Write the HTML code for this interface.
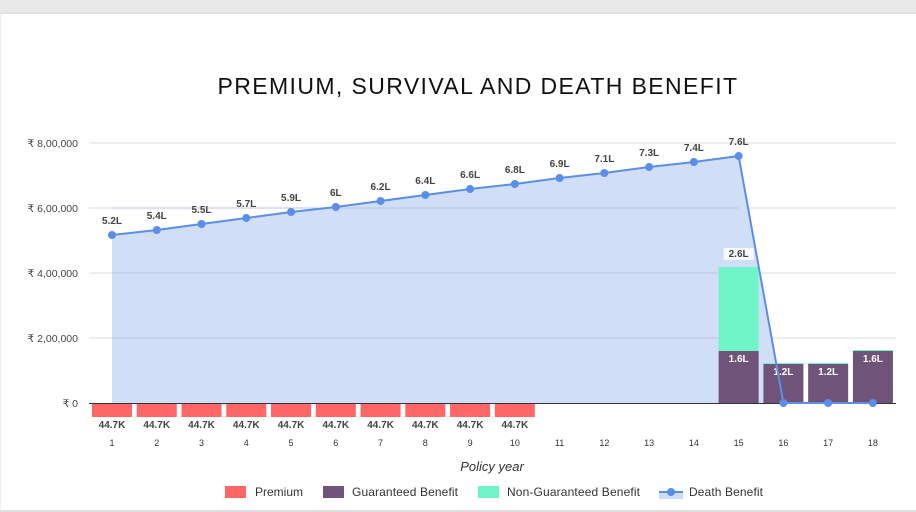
<!DOCTYPE html>
<html><head><meta charset="utf-8"><style>
html,body{margin:0;padding:0;background:#fff;}
body{width:916px;height:512px;overflow:hidden;}
svg{display:block;font-family:"Liberation Sans",sans-serif;}
</style></head><body>
<svg id="c" width="916" height="512" xmlns="http://www.w3.org/2000/svg"></svg>
<script>
const s=[];
s.push('<rect x="0" y="0" width="916" height="12" fill="#e9e9e9"/><rect x="0" y="12" width="916" height="2" fill="#e2e2e2"/>');
s.push('<rect x="0" y="510" width="916" height="2" fill="#dcdcdc"/><rect x="0" y="14" width="1" height="496" fill="#eee"/>');
s.push('<text x="478" y="94" text-anchor="middle" font-size="23" fill="#111" letter-spacing="1.4">PREMIUM, SURVIVAL AND DEATH BENEFIT</text>');
const y0=403, k=65/200000;
const X=i=>112+(i-1)*44.76;
const yl=["₹ 0","₹ 2,00,000","₹ 4,00,000","₹ 6,00,000","₹ 8,00,000"];
for(let g=0;g<5;g++){const y=y0-65*g;
 if(g>0)s.push(`<line x1="89" x2="896" y1="${y}" y2="${y}" stroke="#ddd" stroke-width="1"/>`);
 s.push(`<text x="78" y="${y+4}" text-anchor="end" font-size="10.5" fill="#444">${yl[g]}</text>`);}
const dy=[235,230,224,218,212,207,201,195,189,184,178,173,167,162,156,403,403,403];
const dl=["5.2L","5.4L","5.5L","5.7L","5.9L","6L","6.2L","6.4L","6.6L","6.8L","6.9L","7.1L","7.3L","7.4L","7.6L"];
let p=`M${X(1)},${y0} `;for(let i=1;i<=18;i++)p+=`L${X(i)},${dy[i-1]} `;p+=`L${X(18)},${y0} Z`;
s.push(`<path d="${p}" fill="#cfdcf7" opacity="0.95"/>`);
for(let g=1;g<4;g++){const y=y0-65*g;s.push(`<line x1="${X(1)}" x2="${X(15)}" y1="${y}" y2="${y}" stroke="#b9c6e0" stroke-width="1"/>`);}
const bw=40;
for(let i=1;i<=10;i++){s.push(`<rect x="${X(i)-20}" y="404" width="${bw}" height="13" fill="#ff6666"/>`);
 s.push(`<text x="${X(i)}" y="428" text-anchor="middle" font-size="10" font-weight="bold" fill="#444">44.7K</text>`);}
const gb={15:351,16:364,17:364,18:351};const gl={15:"1.6L",16:"1.2L",17:"1.2L",18:"1.6L"};
for(const i in gb){const x=X(+i)-20;
 s.push(`<rect x="${x}" y="${gb[i]}" width="${bw}" height="${y0-gb[i]}" fill="#6f5379"/>`);
 s.push(`<rect x="${x}" y="${gb[i]-1}" width="${bw}" height="1" fill="#6ff5c8"/>`);
 s.push(`<text x="${X(+i)}" y="${gb[i]+11}" text-anchor="middle" font-size="10" font-weight="bold" fill="#fff">${gl[i]}</text>`);}
s.push(`<rect x="${X(15)-20}" y="267" width="40" height="83" fill="#6ff5c8"/>`);
s.push(`<rect x="${X(15)-15}" y="248" width="30" height="12" fill="#fff" opacity="0.85"/><text x="${X(15)}" y="257" text-anchor="middle" font-size="10" font-weight="bold" fill="#444">2.6L</text>`);
s.push(`<line x1="89" x2="896" y1="403.5" y2="403.5" stroke="#333" stroke-width="1"/>`);
let lp="";for(let i=1;i<=18;i++)lp+=(i==1?"M":"L")+X(i)+","+dy[i-1]+" ";
s.push(`<path d="${lp}" fill="none" stroke="#5b8ee6" stroke-width="2"/>`);
for(let i=1;i<=18;i++){s.push(`<circle cx="${X(i)}" cy="${dy[i-1]}" r="4" fill="#5b8ee6"/>`);
 if(i<=15)s.push(`<text x="${X(i)}" y="${dy[i-1]-11}" text-anchor="middle" font-size="10" font-weight="bold" fill="#444">${dl[i-1]}</text>`);
 s.push(`<text x="${X(i)}" y="446" text-anchor="middle" font-size="9" fill="#333">${i}</text>`);}
s.push('<text x="492" y="471" text-anchor="middle" font-size="13" font-style="italic" fill="#333">Policy year</text>');
s.push('<rect x="225" y="486" width="21" height="12" fill="#ff6666"/><text x="255" y="496" font-size="12" fill="#333" textLength="48">Premium</text>');
s.push('<rect x="323" y="486" width="21" height="12" fill="#6f5379"/><text x="352" y="496" font-size="12" fill="#333" textLength="106">Guaranteed Benefit</text>');
s.push('<rect x="478" y="486" width="21" height="12" fill="#6ff5c8"/><text x="507" y="496" font-size="12" fill="#333" textLength="133">Non-Guaranteed Benefit</text>');
s.push('<rect x="659" y="492" width="24" height="7" fill="#cfdcf7"/><line x1="659" x2="683" y1="492" y2="492" stroke="#5b8ee6" stroke-width="2"/><circle cx="671" cy="492" r="4" fill="#5b8ee6"/><text x="689" y="496" font-size="12" fill="#333" textLength="74">Death Benefit</text>');
document.getElementById('c').innerHTML=s.join('');
</script>
</body></html>
